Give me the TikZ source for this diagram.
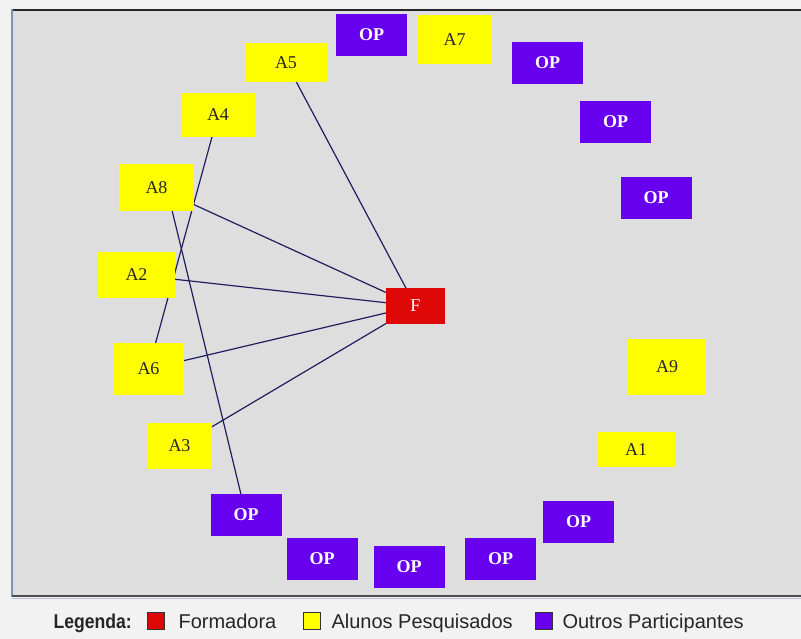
\documentclass[tikz,border=0pt]{standalone}
\usepackage{fontspec}
\setmainfont{Liberation Serif}
\setsansfont{Liberation Sans}
\newfontfamily\legbold[FakeStretch=0.88]{Liberation Sans}
\usetikzlibrary{backgrounds}
\definecolor{fundo}{RGB}{222,222,222}
\definecolor{amarelo}{RGB}{255,255,0}
\definecolor{roxo}{RGB}{104,0,240}
\definecolor{vermelho}{RGB}{222,8,8}
\definecolor{aresta}{RGB}{30,30,95}
\definecolor{moldura}{RGB}{128,146,184}

\begin{document}
\begin{tikzpicture}[x=1pt,y=-1pt,
  no/.style={rectangle,inner sep=0pt,font=\fontsize{18}{18}\selectfont},
  al/.style={no,fill=amarelo,text=black!85},
  op/.style={no,fill=roxo,text=white,font=\fontsize{18}{18}\selectfont\bfseries,
    minimum width=71,minimum height=42},
  fm/.style={no,fill=vermelho,text=white},
  lig/.style={aresta,line width=1.2pt},
  leg/.style={anchor=base west,text=black!85,font=\sffamily\fontsize{20}{20}\selectfont},
  cx/.style={draw=black!80,minimum size=17,inner sep=0pt}]
  \useasboundingbox (0,0) rectangle (801,639);
  % 外周のOP (上から時計回り)
  \node[op] (op1) at (371.5,35) {OP};
  \node[op] (op2) at (547.5,63) {OP};
  \node[op] (op3) at (615.5,122) {OP};
  \node[op] (op4) at (656,198) {OP};
  \node[op] (op5) at (578.5,521.5) {OP};
  \node[op] (op6) at (500.5,558.5) {OP};
  \node[op] (op7) at (409,566.5) {OP};
  \node[op] (op8) at (322,558.5) {OP};
  \node[op] (op9) at (246,515) {OP};
  % 学生 A1--A9
  \node[al,minimum width=75,minimum height=49] (a7) at (454.5,39.5) {A7};
  \node[al,minimum width=78,minimum height=56] (a9) at (667,367) {A9};
  \node[al,minimum width=78,minimum height=35] (a1) at (636,449.5) {A1};
  \node[al,minimum width=65,minimum height=46] (a3) at (179.5,446) {A3};
  \node[al,minimum width=71,minimum height=52] (a6) at (148.5,369) {A6};
  \node[al,minimum width=77,minimum height=46] (a2) at (136.5,275) {A2};
  \node[al,minimum width=75,minimum height=47] (a8) at (156.5,187.5) {A8};
  \node[al,minimum width=74,minimum height=44] (a4) at (218,115) {A4};
  \node[al,minimum width=82,minimum height=39] (a5) at (286,62.5) {A5};
  \node[fm,minimum width=59,minimum height=36] (f) at (415.5,306) {F};
  % 凡例
  \node[leg,font=\legbold\bfseries\fontsize{20}{20}\selectfont] (lg) at (50,628) {Legenda:};
  \node[cx,fill=vermelho] (cf) at (156,621) {};
  \node[leg] (tf) at (175,628) {Formadora};
  \node[cx,fill=amarelo] (ca) at (312,621) {};
  \node[leg] (ta) at (328,628) {Alunos Pesquisados};
  \node[cx,fill=roxo] (co) at (544,621) {};
  \node[leg] (to) at (559,628) {Outros Participantes};
  \begin{scope}[on background layer]
    \fill[black!5] (0,0) rectangle (801,639);
    \fill[fundo] (12,10) rectangle (801,596);
    \draw[line width=2pt,black!85] (11,10) -- (801,10);
    \draw[line width=2.5pt,moldura] (12,9) -- (12,597);
    \draw[line width=1.5pt,black!70] (12,596) -- (801,596);
    \draw[line width=1pt,moldura!60] (12,598.5) -- (801,598.5);
    % 辺は中心どうしを結ぶ
    \draw[lig] (a5.center) -- (f.center);
    \draw[lig] (a8.center) -- (f.center);
    \draw[lig] (a2.center) -- (f.center);
    \draw[lig] (a6.center) -- (f.center);
    \draw[lig] (a3.center) -- (f.center);
    \draw[lig] (a4.center) -- (a6.center);
    \draw[lig] ([xshift=10pt]a8.center) -- (op9.center);
  \end{scope}
\end{tikzpicture}
\end{document}
